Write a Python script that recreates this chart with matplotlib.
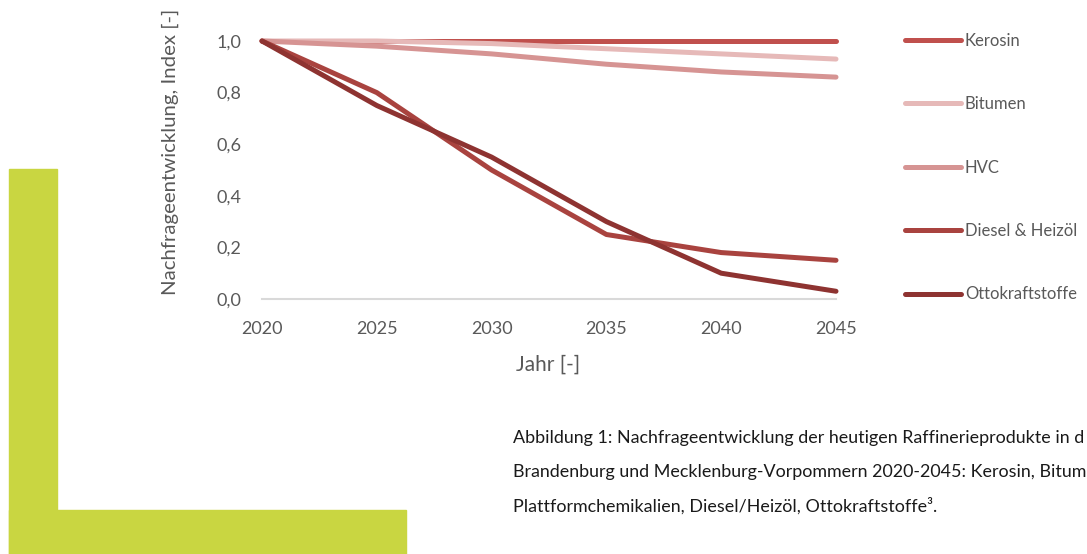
import matplotlib
matplotlib.use("Agg")
import matplotlib.pyplot as plt
from matplotlib.patches import Rectangle

W, H = 1087, 554
DPI = 100

years = [2020, 2025, 2030, 2035, 2040, 2045]
kerosin = [1.00, 1.00, 1.00, 1.00, 1.00, 1.00]
bitumen = [1.00, 1.00, 0.99, 0.97, 0.95, 0.93]
hvc = [1.00, 0.98, 0.95, 0.91, 0.88, 0.86]
diesel = [1.00, 0.80, 0.50, 0.25, 0.18, 0.15]
otto = [1.00, 0.75, 0.55, 0.30, 0.10, 0.03]

series_names = ["Kerosin", "Bitumen", "HVC", "Diesel & Heizöl", "Ottokraftstoffe"]
series_values = [kerosin, bitumen, hvc, diesel, otto]
series_colors = ["#C0504D", "#E6B9B8", "#D69493", "#A9433F", "#8E3331"]

y_ticks = [0.0, 0.2, 0.4, 0.6, 0.8, 1.0]
y_ticklabels = ["0,0", "0,2", "0,4", "0,6", "0,8", "1,0"]
x_ticklabels = ["2020", "2025", "2030", "2035", "2040", "2045"]

caption_lines = [
    "Abbildung 1: Nachfrageentwicklung der heutigen Raffinerieprodukte in d",
    "Brandenburg und Mecklenburg-Vorpommern 2020-2045: Kerosin, Bitum",
    "Plattformchemikalien, Diesel/Heizöl, Ottokraftstoffe\u00b3.",
]

FONT = ["Lato", "DejaVu Sans"]
plt.rcParams["font.family"] = FONT
GRAY = "#595959"

fig = plt.figure(figsize=(W / DPI, H / DPI), dpi=DPI)

def fx(px):
    return px / W

def fy(py):
    return 1 - py / H

# green L decoration
fig.patches.append(Rectangle((fx(9), fy(554)), fx(57) - fx(9), fy(169) - fy(554),
                             transform=fig.transFigure, color="#C9D641", zorder=0))
fig.patches.append(Rectangle((fx(9), fy(554)), fx(406) - fx(9), fy(510) - fy(554),
                             transform=fig.transFigure, color="#C9D641", zorder=0))

ax_l, ax_r, ax_t, ax_b = 262, 836, 41, 299
ax = fig.add_axes([fx(ax_l), fy(ax_b), fx(ax_r) - fx(ax_l), fy(ax_t) - fy(ax_b)])
ax.set_facecolor("none")

handles = []
for name, vals, col in zip(series_names, series_values, series_colors):
    h, = ax.plot(years, vals, color=col, lw=3.6, solid_capstyle="round",
                 solid_joinstyle="round", label=name, clip_on=False)
    handles.append(h)

ax.set_xlim(2020, 2045)
ax.set_ylim(0, 1.0)
ax.set_xticks(years)
ax.set_xticklabels(x_ticklabels)
ax.set_yticks(y_ticks)
ax.set_yticklabels(y_ticklabels)
for s in ["top", "right", "left"]:
    ax.spines[s].set_visible(False)
ax.spines["bottom"].set_color("#D9D9D9")
ax.spines["bottom"].set_linewidth(1.5)
ax.spines["bottom"].set_zorder(0)
ax.tick_params(axis="both", length=0, labelsize=13, colors=GRAY)
ax.tick_params(axis="x", pad=16)
ax.tick_params(axis="y", pad=15)

fig.text(fx(548), fy(365), "Jahr [-]", ha="center", va="center", fontsize=15, color=GRAY)
fig.text(fx(170), fy(152), "Nachfrageentwicklung, Index [-]", ha="center", va="center",
         rotation=90, fontsize=14.7, color=GRAY)

leg = fig.legend(handles=handles, labels=series_names, loc="upper left",
                 bbox_to_anchor=(fx(905), fy(33)), frameon=False, fontsize=12,
                 handlelength=3.35, handletextpad=0.24, labelspacing=2.84,
                 borderaxespad=0, borderpad=0)
for t in leg.get_texts():
    t.set_color(GRAY)

for i, line in enumerate(caption_lines):
    fig.text(fx(513), fy(438 + 34 * i), line, ha="left", va="center",
             fontsize=12.9, color="#1A1A1A")

fig.savefig("out.png", dpi=DPI)
